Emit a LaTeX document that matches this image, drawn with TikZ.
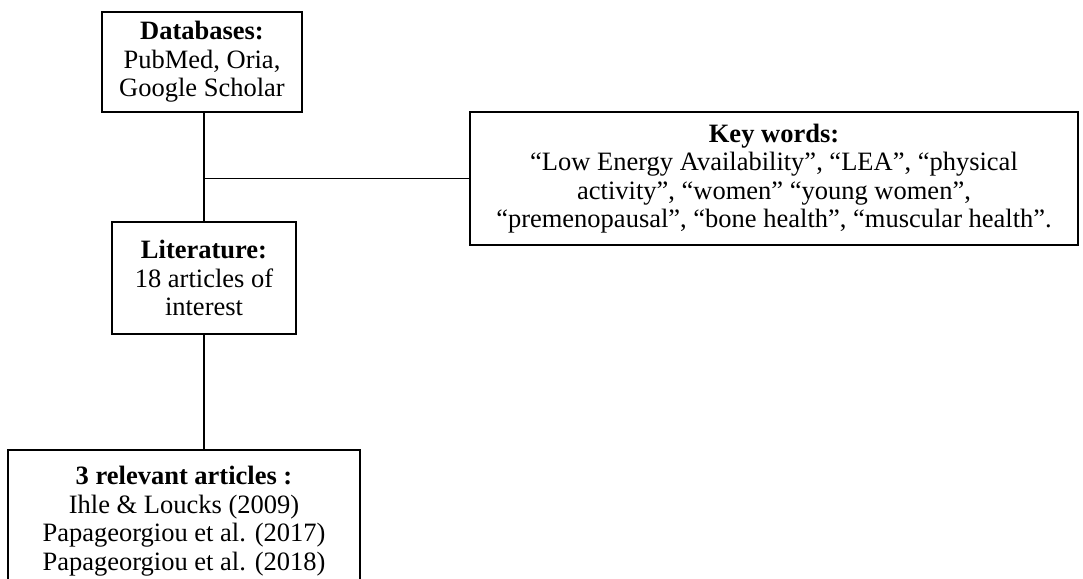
\documentclass[tikz,border=0pt]{standalone}
\usepackage{fontspec}
\setmainfont{Liberation Serif}
\begin{document}
\begin{tikzpicture}[x=1pt,y=-1pt,
  box/.style={draw, line width=2.4pt, align=center, inner sep=0pt,
    font=\fontsize{26.5}{28.5}\selectfont},
  link/.style={line width=1.2pt}]
\clip (0,0) rectangle (1083,578);
\fill[white] (0,0) rectangle (1083,578);
\node[box, minimum width=200pt, minimum height=100pt] (db) at (202,62)
  {\textbf{Databases:}\\PubMed, Oria,\\Google Scholar};
\node[box, minimum width=608pt, minimum height=133pt] (kw) at (774,178.5)
  {\textbf{Key words:}\\``Low Energy Availability'', ``LEA'', ``physical\\activity'', ``women'' ``young women'',\\``premenopausal'', ``bone health'', ``muscular health''.};
\node[box, minimum width=184pt, minimum height=112pt] (lit) at (204,278)
  {\textbf{Literature:}\\18 articles of\\interest};
\node[box, minimum width=352pt, minimum height=142pt] (rel) at (184,521)
  {\textbf{3 relevant articles :}\\Ihle \& Loucks (2009)\\Papageorgiou et al. (2017)\\Papageorgiou et al. (2018)};
\coordinate (j) at (lit.north |- kw.west);
\draw[link] (lit.north) -- (lit.north |- db.south);
\draw[link] (j) -- (kw.west);
\draw[link] (lit.south) -- (lit.south |- rel.north);
\end{tikzpicture}
\end{document}
